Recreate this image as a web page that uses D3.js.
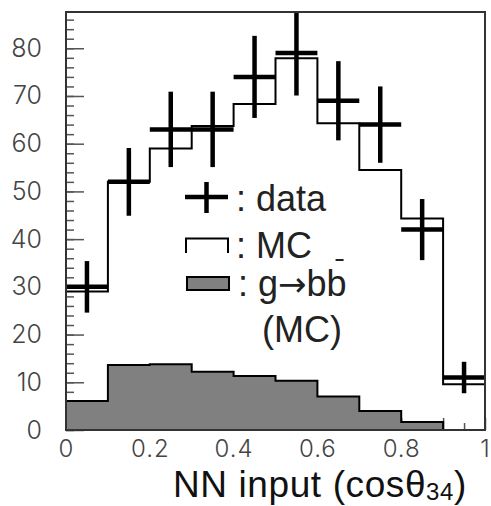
<!DOCTYPE html>
<html>
<head>
<meta charset="utf-8">
<script src="https://cdn.jsdelivr.net/npm/d3@7"></script>
<style>
  body { margin: 0; background: #fff; }
  .tick-label { font-family: "Inter", "Open Sans", sans-serif; font-weight: 300; font-size: 24px; fill: #444; }
  .legend-text { font-family: "Liberation Sans", Arial, sans-serif; font-size: 36px; fill: #222; }
</style>
</head>
<body>
<svg id="chart" width="491" height="506"></svg>
<script>
const w = 491;
const h = 506;

// bins of width 0.1 over [0,1]
const binLow = [0, 0.1, 0.2, 0.3, 0.4, 0.5, 0.6, 0.7, 0.8, 0.9];
const binHigh = [0.1, 0.2, 0.3, 0.4, 0.5, 0.6, 0.7, 0.8, 0.9, 1.0];
const dataCounts = [30, 52, 63, 63, 74, 79, 69, 64, 42, 11];
const dataErrors = [5.4, 7.1, 7.9, 7.9, 8.6, 8.9, 8.3, 8.0, 6.4, 3.3];
const mcCounts = [29.0, 52.0, 59.0, 63.7, 68.3, 77.9, 64.3, 54.5, 44.3, 9.6];
const gbbCounts = [6.1, 13.6, 13.8, 12.2, 11.3, 10.3, 7.0, 4.0, 1.7, 0];

const yMajor = [0, 10, 20, 30, 40, 50, 60, 70, 80];
const yMinor = d3.range(0, 88, 2);
const xLabels = [0, 0.2, 0.4, 0.6, 0.8, 1];
const xMajor = d3.range(0, 1.01, 0.1);
const xMinor = d3.range(0.05, 1, 0.1);

const plot = { left: 66, right: 485, top: 12, bottom: 430 };

const svg = d3.select("#chart");

const x = d3.scaleLinear().domain([0, 1]).range([plot.left, plot.right]);
const y = d3.scaleLinear().domain([0, 87.6]).range([plot.bottom, plot.top]);

svg.append("clipPath").attr("id", "clip")
   .append("rect")
   .attr("x", plot.left).attr("y", plot.top)
   .attr("width", plot.right - plot.left).attr("height", plot.bottom - plot.top);

// ticks (drawn first so histograms cover them)
function tickStyle(g) {
  g.select(".domain").remove();
  g.selectAll(".tick line").attr("stroke", "#555").attr("stroke-width", 1.5);
}
svg.append("g").attr("transform", `translate(${plot.left},0)`)
   .call(d3.axisRight(y).tickValues(yMinor).tickSize(8).tickFormat(""))
   .call(tickStyle);
svg.append("g").attr("transform", `translate(${plot.left},0)`)
   .call(d3.axisRight(y).tickValues(yMajor).tickSize(18).tickFormat(""))
   .call(tickStyle);
svg.append("g").attr("transform", `translate(0,${plot.bottom})`)
   .call(d3.axisTop(x).tickValues(xMinor).tickSize(7).tickFormat(""))
   .call(tickStyle);
svg.append("g").attr("transform", `translate(0,${plot.bottom})`)
   .call(d3.axisTop(x).tickValues(xMajor).tickSize(12).tickFormat(""))
   .call(tickStyle);

// tick labels
const yLab = svg.append("g").attr("transform", `translate(${plot.left},0)`)
   .call(d3.axisLeft(y).tickValues(yMajor).tickSize(0).tickPadding(24));
yLab.select(".domain").remove();
yLab.selectAll("text").attr("class", "tick-label").style("font-size", "25px");
yLab.attr("font-size", null).attr("font-family", null);

const xLab = svg.append("g").attr("transform", `translate(0,${plot.bottom})`)
   .call(d3.axisBottom(x).tickValues(xLabels).tickSize(0).tickPadding(10).tickFormat(d3.format("~g")));
xLab.select(".domain").remove();
xLab.selectAll("text").attr("class", "tick-label").style("letter-spacing", "1px");
xLab.attr("font-size", null).attr("font-family", null);

// histograms
const stepPts = (vals) => {
  const pts = [[0, 0]];
  vals.forEach((v, i) => pts.push([binLow[i], v]));
  pts.push([binHigh[binHigh.length - 1], vals[vals.length - 1]]);
  pts.push([binHigh[binHigh.length - 1], 0]);
  return pts;
};

const gbbPts = gbbCounts.map((v, i) => [binLow[i], v]);
gbbPts.push([binHigh[binHigh.length - 1], gbbCounts[gbbCounts.length - 1]]);

svg.append("path")
   .datum(gbbPts)
   .attr("d", d3.area().curve(d3.curveStepAfter)
      .x(d => x(d[0])).y0(y(0)).y1(d => y(d[1])))
   .attr("fill", "#808080");

svg.append("path")
   .datum(stepPts(gbbCounts))
   .attr("d", d3.line().curve(d3.curveStepAfter).x(d => x(d[0])).y(d => y(d[1])))
   .attr("fill", "none").attr("stroke", "#000").attr("stroke-width", 2);

svg.append("path")
   .datum(stepPts(mcCounts))
   .attr("d", d3.line().curve(d3.curveStepAfter).x(d => x(d[0])).y(d => y(d[1])))
   .attr("fill", "none").attr("stroke", "#000").attr("stroke-width", 2);

// data points
const pts = svg.append("g").attr("clip-path", "url(#clip)");
dataCounts.forEach((v, i) => {
  const xc = x((binLow[i] + binHigh[i]) / 2);
  pts.append("line")
     .attr("x1", x(binLow[i])).attr("x2", x(binHigh[i]))
     .attr("y1", y(v)).attr("y2", y(v))
     .attr("stroke", "#000").attr("stroke-width", 4.5);
  pts.append("line")
     .attr("x1", xc).attr("x2", xc)
     .attr("y1", y(v + dataErrors[i])).attr("y2", y(v - dataErrors[i]))
     .attr("stroke", "#000").attr("stroke-width", 4.5);
});

// frame
svg.append("path")
   .attr("d", `M${plot.left},${plot.bottom}V${plot.top}H${plot.right}V${plot.bottom}Z`)
   .attr("fill", "none").attr("stroke", "#333").attr("stroke-width", 2);

// legend
const leg = svg.append("g");
leg.append("line").attr("x1", 185).attr("x2", 228).attr("y1", 197).attr("y2", 197)
   .attr("stroke", "#000").attr("stroke-width", 4.5);
leg.append("line").attr("x1", 206.5).attr("x2", 206.5).attr("y1", 182).attr("y2", 213)
   .attr("stroke", "#000").attr("stroke-width", 4.5);
leg.append("path").attr("d", "M186,253V238.5H228V253")
   .attr("fill", "none").attr("stroke", "#000").attr("stroke-width", 2);
leg.append("rect").attr("x", 187).attr("y", 277).attr("width", 42).attr("height", 13)
   .attr("fill", "#808080").attr("stroke", "#000").attr("stroke-width", 2);

leg.append("text").attr("class", "legend-text").attr("x", 236).attr("y", 211).text(": data");
leg.append("text").attr("class", "legend-text").attr("x", 236).attr("y", 258).text(": MC");
const gt = leg.append("text").attr("class", "legend-text").attr("x", 238).attr("y", 296);
gt.append("tspan").text(": g");
gt.append("tspan").attr("font-family", "DejaVu Sans").attr("font-size", 34).text("\u2192");
gt.append("tspan").text("b");
const lastB = gt.append("tspan").text("b");
leg.append("text").attr("class", "legend-text").attr("x", 262).attr("y", 342).text("(MC)");

const bb = lastB.node().getBBox();
leg.append("line")
   .attr("x1", bb.x + bb.width * 0.45).attr("x2", bb.x + bb.width * 0.85)
   .attr("y1", 260).attr("y2", 260)
   .attr("stroke", "#222").attr("stroke-width", 2);

// axis title
const title = svg.append("text")
   .attr("x", 173).attr("y", 497)
   .attr("font-family", "Liberation Sans, Arial, sans-serif")
   .attr("font-size", 37).attr("letter-spacing", 0.6).attr("fill", "#111");
title.append("tspan").text("NN input (cos\u03B8");
title.append("tspan").attr("font-size", 24).attr("dy", 3).text("34");
title.append("tspan").attr("dy", -3).text(")");
</script>
</body>
</html>
